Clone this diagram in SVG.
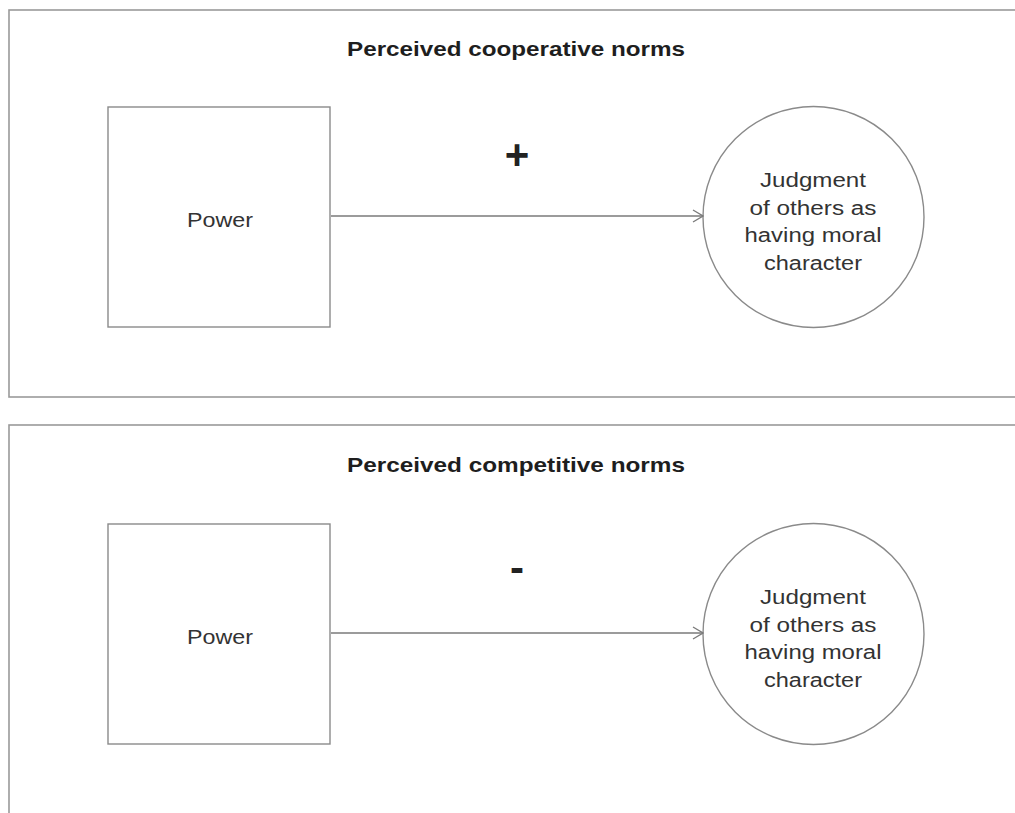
<svg xmlns="http://www.w3.org/2000/svg" width="1015" height="813" viewBox="0 0 1015 813">
<style>
.panel{fill:none;stroke:#9a9a9a;stroke-width:1.6}
.box{fill:#fff;stroke:#8a8a8a;stroke-width:1.4}
.edge{stroke:#7a7a7a;stroke-width:1.3;fill:none}
.title{font-family:"Liberation Sans",Arial,sans-serif;font-weight:bold;font-size:21px;fill:#1e1e1e;text-anchor:middle}
.lbl{font-family:"Liberation Sans",Arial,sans-serif;font-size:20px;fill:#333;text-anchor:middle}
.sign{font-family:"Liberation Sans",Arial,sans-serif;font-size:42px;font-weight:bold;fill:#222;text-anchor:middle}
</style>
<defs>
<marker id="arr" viewBox="0 0 12 14" refX="11" refY="7" markerWidth="12" markerHeight="14" markerUnits="userSpaceOnUse" orient="auto">
<path d="M1,1 L11,7 L1,13" fill="none" stroke="#7a7a7a" stroke-width="1.3"/>
</marker>
</defs>
<rect width="1015" height="813" fill="#fff"/>
<g id="panel-cooperative">
<rect class="panel" x="9" y="10" width="1020" height="387"/>
<text class="title" x="516" y="56" textLength="338" lengthAdjust="spacingAndGlyphs">Perceived cooperative norms</text>
</g>
<g id="panel-competitive">
<rect class="panel" x="9" y="425" width="1020" height="400"/>
<text class="title" x="516" y="472" textLength="338" lengthAdjust="spacingAndGlyphs">Perceived competitive norms</text>
</g>
<g id="power1">
<rect class="box" x="108" y="107" width="222" height="220"/>
<text class="lbl" x="220" y="227" textLength="66" lengthAdjust="spacingAndGlyphs">Power</text>
</g>
<g id="judgment1">
<circle class="box" cx="813.5" cy="217" r="110.5"/>
<text class="lbl" x="813" y="187" textLength="106" lengthAdjust="spacingAndGlyphs">Judgment</text>
<text class="lbl" x="813" y="215" textLength="127" lengthAdjust="spacingAndGlyphs">of others as</text>
<text class="lbl" x="813" y="242" textLength="137" lengthAdjust="spacingAndGlyphs">having moral</text>
<text class="lbl" x="813" y="270" textLength="98" lengthAdjust="spacingAndGlyphs">character</text>
</g>
<g id="power2">
<rect class="box" x="108" y="524" width="222" height="220"/>
<text class="lbl" x="220" y="644" textLength="66" lengthAdjust="spacingAndGlyphs">Power</text>
</g>
<g id="judgment2">
<circle class="box" cx="813.5" cy="634" r="110.5"/>
<text class="lbl" x="813" y="604" textLength="106" lengthAdjust="spacingAndGlyphs">Judgment</text>
<text class="lbl" x="813" y="632" textLength="127" lengthAdjust="spacingAndGlyphs">of others as</text>
<text class="lbl" x="813" y="659" textLength="137" lengthAdjust="spacingAndGlyphs">having moral</text>
<text class="lbl" x="813" y="687" textLength="98" lengthAdjust="spacingAndGlyphs">character</text>
</g>
<g id="connectors">
<line class="edge" x1="331" y1="216" x2="703" y2="216" marker-end="url(#arr)"/>
<text class="sign" x="517" y="169">+</text>
<line class="edge" x1="331" y1="633" x2="703" y2="633" marker-end="url(#arr)"/>
<text class="sign" x="517" y="582">-</text>
</g>
</svg>
